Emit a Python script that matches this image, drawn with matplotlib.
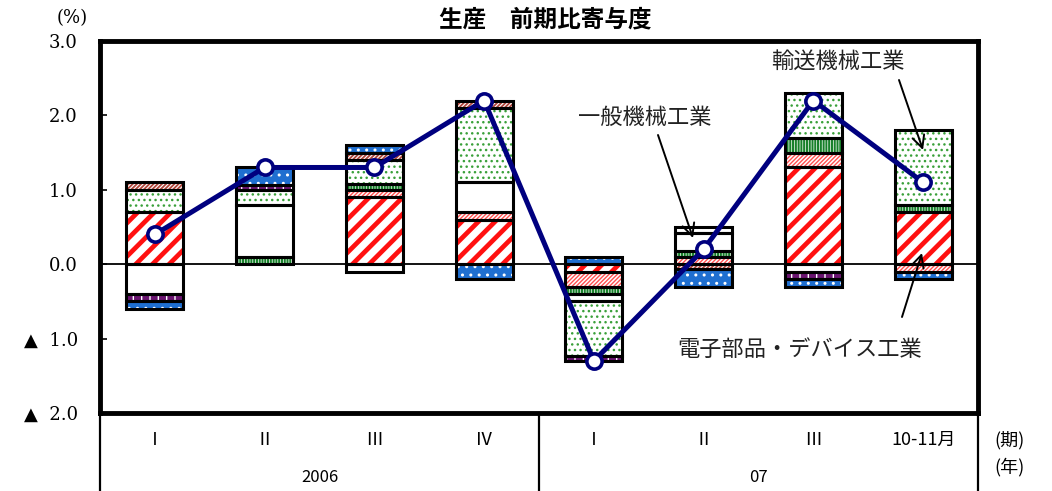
import matplotlib
matplotlib.use("Agg")
import matplotlib.pyplot as plt
import numpy as np

plt.rcParams['font.family'] = ['Noto Sans CJK JP', 'DejaVu Sans']

# Periods
periods = ["Ⅰ", "Ⅱ", "Ⅲ", "Ⅳ", "Ⅰ", "Ⅱ", "Ⅲ", "10-11月"]
years = ["2006", "07"]

# Contributions by industry (percentage points), stacking order from zero outward
electronic = [0.7, 0.0, 0.9, 0.6, -0.1, 0.0, 1.3, 0.7]      # 電子部品・デバイス工業
info_comm = [0.0, 0.0, 0.1, 0.1, -0.2, 0.1, 0.2, -0.1]
chemical = [0.0, 0.1, 0.08, 0.0, -0.1, 0.08, 0.2, 0.1]
general = [-0.4, 0.7, -0.1, 0.4, -0.1, 0.24, -0.1, 0.0]     # 一般機械工業
transport = [0.3, 0.2, 0.32, 1.0, -0.73, 0.08, 0.6, 1.0]    # 輸送機械工業
electrical = [0.1, 0.0, 0.1, 0.1, 0.0, -0.07, 0.0, 0.0]
steel = [-0.1, 0.07, 0.0, 0.0, -0.07, 0.0, -0.1, 0.0]
others = [-0.1, 0.23, 0.1, -0.2, 0.1, -0.23, -0.1, -0.1]

# Overall change (line)
total = [0.4, 1.3, 1.3, 2.2, -1.3, 0.2, 2.2, 1.1]

series = [
    (electronic, dict(face="white", hc="#ff1010", hatch="//", hlw=3.4)),
    (info_comm, dict(face="white", hc="#ff5050", hatch="////////", hlw=1.0)),
    (chemical, dict(face="white", hc="#17802a", hatch="||||||", hlw=1.5)),
    (general, dict(face="white", hc="white", hatch=None, hlw=1.0)),
    (transport, dict(face="white", hc="#3aa03a", hatch="...", hlw=1.0)),
    (electrical, dict(face="white", hc="#b0453a", hatch="////////", hlw=1.3)),
    (steel, dict(face="white", hc="#6a1470", hatch="||", hlw=5.0)),
    (others, dict(face="#1f6fd0", hc="white", hatch="..", hlw=1.0)),
]

fig = plt.figure(figsize=(10.52, 4.91), dpi=100)
ax = fig.add_axes([100 / 1052, 78 / 491, 878 / 1052, 372 / 491])

n = len(periods)
x = np.arange(n) + 0.5
width = 0.52

ax.axhline(0, color="black", lw=1.3, zorder=1)

pos_cum = np.zeros(n)
neg_cum = np.zeros(n)
for vals, st in series:
    v = np.array(vals, dtype=float)
    bottoms = np.where(v >= 0, pos_cum, neg_cum)
    mask = v != 0
    with plt.rc_context({'hatch.linewidth': st["hlw"]}):
        fills = ax.bar(x[mask], v[mask], width, bottom=bottoms[mask],
                       color=st["face"], edgecolor=st["hc"], linewidth=0,
                       hatch=st["hatch"], zorder=2)
        for p in fills:
            if hasattr(p, "set_hatch_linewidth"):
                p.set_hatch_linewidth(st["hlw"])
    ax.bar(x[mask], v[mask], width, bottom=bottoms[mask], fill=False,
           edgecolor="black", linewidth=2.2, zorder=3)
    pos_cum = pos_cum + np.where(v > 0, v, 0)
    neg_cum = neg_cum + np.where(v < 0, v, 0)

ax.plot(x, total, color="#00007f", lw=3.6, marker="o", ms=11,
        mfc="white", mec="#00007f", mew=2.6, zorder=5)

ax.set_xlim(0, n)
ax.set_ylim(-2.0, 3.0)
ax.set_xticks([])
yt = [-2, -1, 0, 1, 2, 3]
ylabels = ["▲  2.0", "▲  1.0", "0.0", "1.0", "2.0", "3.0"]
ax.set_yticks(yt)
ax.set_yticklabels(ylabels, fontsize=13, family=['DejaVu Serif', 'DejaVu Sans'])
ax.tick_params(axis="y", direction="in", length=5, width=1.2, pad=16)
for s in ax.spines.values():
    s.set_linewidth(3.5)

fig.text(545 / 1052, 1 - 19 / 491, "生産\u3000前期比寄与度", fontsize=17,
         fontweight="bold", ha="center", va="center")
fig.text(72 / 1052, 1 - 18 / 491, "(%)", fontsize=13, ha="center", va="center",
         family=['DejaVu Serif', 'DejaVu Sans'])

# Period / year table below the plot
below = -78 / 372
for xv in (0, 4, 8):
    ax.plot([xv, xv], [-2.0, -2.0 + 5.0 * below], color="black", lw=1.6,
            clip_on=False, zorder=6)
for xi, lab in zip(x, periods):
    ax.text(xi, -2.0 + 5.0 * (-27 / 372), lab, ha="center", va="center",
            fontsize=13, clip_on=False)
ax.text(2, -2.0 + 5.0 * (-65 / 372), years[0], ha="center", va="center",
        fontsize=12, clip_on=False)
ax.text(6, -2.0 + 5.0 * (-65 / 372), years[1], ha="center", va="center",
        fontsize=12, clip_on=False)
fig.text(1010 / 1052, 1 - 440 / 491, "(期)", fontsize=13, ha="center", va="center")
fig.text(1010 / 1052, 1 - 467 / 491, "(年)", fontsize=13, ha="center", va="center")

# Callouts
def px_to_data(px, py):
    xd = (px - 100) / 878 * n
    yd = 3.0 - (py - 41) / 372 * 5.0
    return xd, yd

arrow = dict(arrowstyle="->", color="black", lw=1.4, mutation_scale=22)
ax.annotate("", xy=px_to_data(693, 238), xytext=px_to_data(658, 135),
            arrowprops=dict(arrow, shrinkA=0, shrinkB=0), zorder=7)
ax.text(*px_to_data(645, 117), "一般機械工業", ha="center", va="center",
        fontsize=16, color="#222222")
ax.annotate("", xy=px_to_data(923, 150), xytext=px_to_data(899, 80),
            arrowprops=dict(arrow, shrinkA=0, shrinkB=0), zorder=7)
ax.text(*px_to_data(838, 61), "輸送機械工業", ha="center", va="center",
        fontsize=16, color="#222222")
ax.annotate("", xy=px_to_data(922, 253), xytext=px_to_data(902, 317),
            arrowprops=dict(arrow, shrinkA=0, shrinkB=0), zorder=7)
ax.text(*px_to_data(800, 349), "電子部品・デバイス工業", ha="center", va="center",
        fontsize=16, color="#222222")

fig.savefig("out.png", dpi=100)
